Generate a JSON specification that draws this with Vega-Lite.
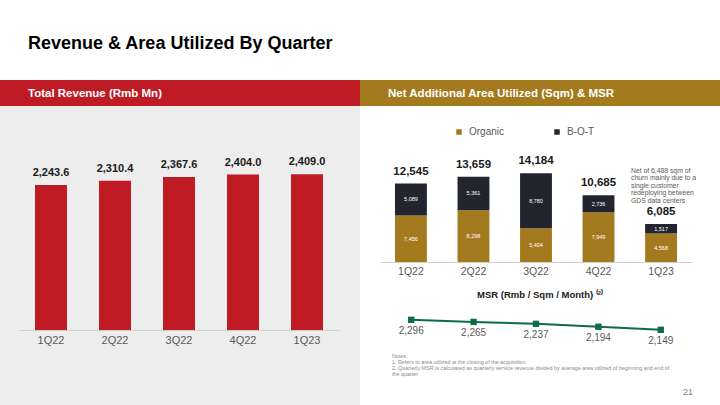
{
  "$schema": "https://vega.github.io/schema/vega-lite/v6.json",
  "padding": {"top": 35, "left": 0, "right": 0, "bottom": 0},
  "background": "#ffffff",
  "config": {"view": {"stroke": null}, "font": "Liberation Sans"},
  "title": {"text": "Revenue & Area Utilized By Quarter", "anchor": "start", "frame": "group", "dx": 28, "offset": 27, "fontSize": 18, "fontWeight": "bold", "font": "Liberation Sans", "color": "#000000"},
  "spacing": 0,
  "bounds": "full",
  "resolve": {"scale": {"color": "independent"}},
  "hconcat": [
    {
      "vconcat": [
        {"width": 360, "height": 26, "view": {"fill": "#be1b24", "stroke": null}, "data": {"values": [{}]}, "mark": {"type": "point", "opacity": 0}, "encoding": {}},
        {
          "width": 360,
          "height": 302,
          "view": {"fill": "#ededed", "stroke": null},
          "title": {"text": "Total Revenue (Rmb Mn)", "anchor": "start", "frame": "group", "dx": 28, "offset": 7, "fontSize": 11.5, "fontWeight": "bold", "color": "#ffffff", "font": "Liberation Sans"},
          "data": {"values": [
            {"q": "1Q22", "rev": 2243.6},
            {"q": "2Q22", "rev": 2310.4},
            {"q": "3Q22", "rev": 2367.6},
            {"q": "4Q22", "rev": 2404.0},
            {"q": "1Q23", "rev": 2409.0}
          ]},
          "encoding": {
            "x": {"field": "q", "type": "ordinal", "sort": null,
              "scale": {"domain": ["1Q22", "2Q22", "3Q22", "4Q22", "1Q23"], "range": [19, 339], "paddingInner": 0.5, "paddingOuter": 0.25},
              "axis": {"orient": "bottom", "offset": -78, "title": null, "ticks": false, "labelPadding": 4, "labelFontSize": 11, "labelColor": "#595959", "labelFont": "Liberation Sans", "domainColor": "#cfcfcf", "labelAngle": 0}},
            "y": {"field": "rev", "type": "quantitative", "scale": {"domain": [0, 3465], "range": [224, 0], "nice": false, "zero": true}, "axis": null}
          },
          "layer": [
            {"mark": {"type": "bar", "color": "#be1b24"}},
            {"mark": {"type": "text", "dy": -12, "fontSize": 11, "fontWeight": "bold", "color": "#1a1a1a", "font": "Liberation Sans"}, "encoding": {"text": {"field": "rev", "type": "quantitative", "format": ",.1f"}}}
          ]
        }
      ],
      "spacing": 0,
      "bounds": "flush"
    },
    {
      "vconcat": [
        {"width": 360, "height": 26, "view": {"fill": "#a47a1f", "stroke": null}, "data": {"values": [{}]}, "mark": {"type": "point", "opacity": 0}, "encoding": {}},
        {
          "width": 360,
          "height": 197,
          "title": {"text": "Net Additional Area Utilized (Sqm) & MSR", "anchor": "start", "frame": "group", "dx": 28, "offset": 7, "fontSize": 11.5, "fontWeight": "bold", "color": "#ffffff", "font": "Liberation Sans"},
          "data": {"values": [
            {"q": "1Q22", "type": "Organic", "v": 7456},
            {"q": "1Q22", "type": "B-O-T", "v": 5089},
            {"q": "2Q22", "type": "Organic", "v": 8298},
            {"q": "2Q22", "type": "B-O-T", "v": 5361},
            {"q": "3Q22", "type": "Organic", "v": 5404},
            {"q": "3Q22", "type": "B-O-T", "v": 8780},
            {"q": "4Q22", "type": "Organic", "v": 7949},
            {"q": "4Q22", "type": "B-O-T", "v": 2736},
            {"q": "1Q23", "type": "Organic", "v": 4568},
            {"q": "1Q23", "type": "B-O-T", "v": 1517}
          ]},
          "encoding": {
            "x": {"field": "q", "type": "ordinal", "sort": null,
              "scale": {"domain": ["1Q22", "2Q22", "3Q22", "4Q22", "1Q23"], "range": [20, 332], "paddingInner": 0.49, "paddingOuter": 0.24},
              "axis": {"orient": "bottom", "offset": -41, "title": null, "ticks": false, "labelPadding": 4, "labelFontSize": 10.5, "labelColor": "#595959", "labelFont": "Liberation Sans", "domainColor": "#cfcfcf", "labelAngle": 0}}
          },
          "layer": [
            {
              "mark": {"type": "bar"},
              "encoding": {
                "y": {"field": "v", "type": "quantitative", "stack": "zero", "scale": {"domain": [0, 24960], "range": [156, 0], "nice": false}, "axis": null},
                "color": {"field": "type", "type": "nominal",
                  "scale": {"domain": ["Organic", "B-O-T"], "range": ["#a47a1f", "#22252f"]},
                  "legend": {"orient": "none", "legendX": 94, "legendY": 21, "direction": "horizontal", "title": null, "symbolType": "square", "symbolSize": 30, "symbolStrokeWidth": 0, "labelFontSize": 10, "labelColor": "#595959", "labelFont": "Liberation Sans", "labelOffset": 5, "columnPadding": 47, "gridAlign": "none"}},
                "order": {"field": "type", "sort": "descending"}
              }
            },
            {
              "transform": [
                {"stack": "v", "groupby": ["q"], "sort": [{"field": "type", "order": "descending"}], "as": ["v0", "v1"]},
                {"fold": ["v0", "v1"], "as": ["edge", "pos"]},
                {"aggregate": [{"op": "mean", "field": "pos", "as": "mid"}], "groupby": ["q", "type", "v"]}
              ],
              "mark": {"type": "text", "fontSize": 5.5, "color": "#ffffff", "font": "Liberation Sans"},
              "encoding": {
                "y": {"field": "mid", "type": "quantitative"},
                "text": {"field": "v", "type": "quantitative", "format": ","}
              }
            },
            {
              "mark": {"type": "text", "dy": -12, "fontSize": 11.5, "fontWeight": "bold", "color": "#1a1a1a", "font": "Liberation Sans"},
              "encoding": {
                "y": {"aggregate": "sum", "field": "v", "type": "quantitative"},
                "text": {"aggregate": "sum", "field": "v", "type": "quantitative", "format": ","}
              }
            },
            {
              "data": {"values": [{"note": "Net of 6,488 sqm of\nchurn mainly due to a\nsingle customer\nredeploying between\nGDS data centers"}]},
              "mark": {"type": "text", "align": "left", "baseline": "top", "dx": -30, "fontSize": 6.8, "lineHeight": 7.4, "color": "#595959", "lineBreak": "\n", "font": "Liberation Sans"},
              "encoding": {"x": {"datum": "1Q23"}, "y": {"datum": 15040}, "text": {"field": "note"}}
            },
            {
              "data": {"values": [{"note": "Notes:\n1.   Refers to area utilized at the closing of the acquisition.\n2.   Quarterly MSR is calculated as quarterly service revenue divided by average area utilized of beginning and end of\n      the quarter"}]},
              "mark": {"type": "text", "align": "left", "baseline": "top", "dx": -19, "fontSize": 5.4, "lineHeight": 6, "color": "#8c8c8c", "lineBreak": "\n", "font": "Liberation Sans"},
              "encoding": {"x": {"datum": "1Q22"}, "y": {"datum": -14720}, "text": {"field": "note"}}
            },
            {
              "data": {"values": [{"page": "21"}]},
              "mark": {"type": "text", "align": "center", "dx": 27, "fontSize": 9, "color": "#7f7f7f", "font": "Liberation Sans"},
              "encoding": {"x": {"datum": "1Q23"}, "y": {"datum": -20800}, "text": {"field": "page"}}
            }
          ]
        },
        {
          "width": 360,
          "height": 105,
          "title": {"text": "MSR (Rmb / Sqm / Month) ⁽²⁾", "anchor": "middle", "frame": "group", "offset": 4, "fontSize": 9.5, "fontWeight": "bold", "color": "#1a1a1a", "font": "Liberation Sans"},
          "data": {"values": [
            {"q": "1Q22", "msr": 2296},
            {"q": "2Q22", "msr": 2265},
            {"q": "3Q22", "msr": 2237},
            {"q": "4Q22", "msr": 2194},
            {"q": "1Q23", "msr": 2149}
          ]},
          "encoding": {
            "x": {"field": "q", "type": "ordinal", "sort": null,
              "scale": {"domain": ["1Q22", "2Q22", "3Q22", "4Q22", "1Q23"], "range": [20, 332], "paddingInner": 0.49, "paddingOuter": 0.24},
              "axis": null},
            "y": {"field": "msr", "type": "quantitative", "scale": {"domain": [1000, 2543], "nice": false, "zero": false}, "axis": null}
          },
          "layer": [
            {"mark": {"type": "line", "color": "#0d6b4b", "strokeWidth": 2}},
            {"mark": {"type": "point", "shape": "square", "size": 40, "filled": true, "opacity": 1, "color": "#0d6b4b"}},
            {"mark": {"type": "text", "dy": 11, "fontSize": 10, "color": "#595959", "font": "Liberation Sans"}, "encoding": {"text": {"field": "msr", "type": "quantitative", "format": ","}}}
          ]
        }
      ],
      "spacing": 0,
      "bounds": "flush",
      "resolve": {"scale": {"color": "independent"}}
    }
  ]
}
